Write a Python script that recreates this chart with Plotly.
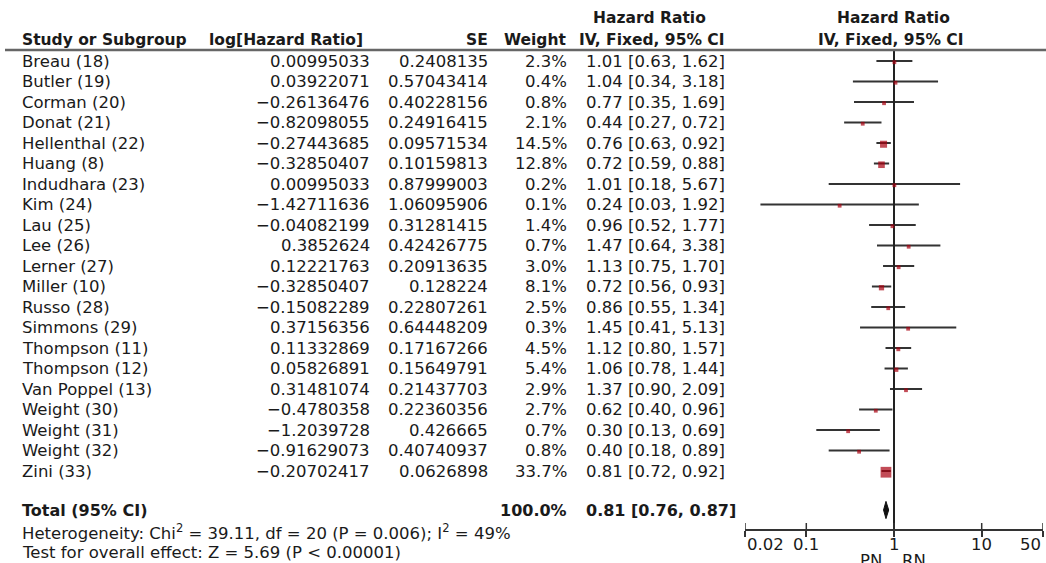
import math
import plotly.graph_objects as go

# ---------------- data ----------------
studies = ["Breau (18)", "Butler (19)", "Corman (20)", "Donat (21)", "Hellenthal (22)",
           "Huang (8)", "Indudhara (23)", "Kim (24)", "Lau (25)", "Lee (26)", "Lerner (27)",
           "Miller (10)", "Russo (28)", "Simmons (29)", "Thompson (11)", "Thompson (12)",
           "Van Poppel (13)", "Weight (30)", "Weight (31)", "Weight (32)", "Zini (33)"]
log_hr = [0.00995033, 0.03922071, -0.26136476, -0.82098055, -0.27443685, -0.32850407,
          0.00995033, -1.42711636, -0.04082199, 0.3852624, 0.12221763, -0.32850407,
          -0.15082289, 0.37156356, 0.11332869, 0.05826891, 0.31481074, -0.4780358,
          -1.2039728, -0.91629073, -0.20702417]
se = [0.2408135, 0.57043414, 0.40228156, 0.24916415, 0.09571534, 0.10159813, 0.87999003,
      1.06095906, 0.31281415, 0.42426775, 0.20913635, 0.128224, 0.22807261, 0.64448209,
      0.17167266, 0.15649791, 0.21437703, 0.22360356, 0.426665, 0.40740937, 0.0626898]
weight = [2.3, 0.4, 0.8, 2.1, 14.5, 12.8, 0.2, 0.1, 1.4, 0.7, 3.0, 8.1, 2.5, 0.3, 4.5, 5.4,
          2.9, 2.7, 0.7, 0.8, 33.7]
hr = [1.01, 1.04, 0.77, 0.44, 0.76, 0.72, 1.01, 0.24, 0.96, 1.47, 1.13, 0.72, 0.86, 1.45,
      1.12, 1.06, 1.37, 0.62, 0.30, 0.40, 0.81]
ci_lo = [0.63, 0.34, 0.35, 0.27, 0.63, 0.59, 0.18, 0.03, 0.52, 0.64, 0.75, 0.56, 0.55, 0.41,
         0.80, 0.78, 0.90, 0.40, 0.13, 0.18, 0.72]
ci_hi = [1.62, 3.18, 1.69, 0.72, 0.92, 0.88, 5.67, 1.92, 1.77, 3.38, 1.70, 0.93, 1.34, 5.13,
         1.57, 1.44, 2.09, 0.96, 0.69, 0.89, 0.92]
total_weight = 100.0
total_hr, total_lo, total_hi = 0.81, 0.76, 0.87
tick_vals = [0.02, 0.1, 1, 10, 50]
tick_text = ["0.02", "0.1", "1", "10", "50"]
heterogeneity = "Heterogeneity: Chi<sup>2</sup> = 39.11, df = 20 (P = 0.006); I<sup>2</sup> = 49%"
overall = "Test for overall effect: Z = 5.69 (P < 0.00001)"
favours = ["PN", "RN"]

# ---------------- layout constants ----------------
W, H = 1046, 563
ROW0, STEP = 61.0, 20.5          # pixel y of first row, row spacing


def row_of(py):
    return (py - ROW0) / STEP


def px(x):
    return x / W


FONT = "DejaVu Sans"
FS = 16.5
FSB = 15.5
TXT = "#1a1a1a"
n = len(studies)

fig = go.Figure()

# CI lines
cx, cy = [], []
for i in range(n):
    cx += [ci_lo[i], ci_hi[i], None]
    cy += [i, i, None]
fig.add_trace(go.Scatter(x=cx, y=cy, mode="lines", line=dict(color="#333333", width=2),
                         hoverinfo="skip", showlegend=False))

# line of no effect
ax_row = row_of(530)
fig.add_trace(go.Scatter(x=[1, 1], y=[row_of(50), ax_row], mode="lines",
                         line=dict(color="#222222", width=2), hoverinfo="skip", showlegend=False))

# point estimates (squares sized by weight)
sizes = [max(3.8, 1.85 * math.sqrt(w)) for w in weight]
fig.add_trace(go.Scatter(x=hr, y=[i + 0.06 for i in range(n)], mode="markers",
                         marker=dict(symbol="square", size=sizes, color="#a8000f",
                                     line=dict(width=0)),
                         hoverinfo="skip", showlegend=False))

# total diamond
ty = row_of(510)
dh = 0.42
fig.add_trace(go.Scatter(x=[total_lo, total_hr, total_hi, total_hr, total_lo],
                         y=[ty, ty - dh, ty, ty + dh, ty], mode="lines", fill="toself",
                         fillcolor="#111111", line=dict(color="#111111", width=1),
                         hoverinfo="skip", showlegend=False))

# crossing tick marks (upper half)
tx, tyy = [], []
for t in tick_vals:
    tx += [t, t, None]
    tyy += [ax_row, ax_row - 7 / STEP, None]
fig.add_trace(go.Scatter(x=tx, y=tyy, mode="lines", line=dict(color="#333333", width=1.5),
                         hoverinfo="skip", showlegend=False))

ann = []


def add(text, x, y, anchor="left", bold=False, size=FS, family=FONT, yanchor="middle",
        xref="paper"):
    if bold:
        text = "<b>" + text + "</b>"
    ann.append(dict(text=text, x=px(x) if xref == "paper" else x, xref=xref, y=y, yref="y",
                    xanchor=anchor, yanchor=yanchor, showarrow=False,
                    font=dict(family=family, size=size, color=TXT)))


def fmt(v):
    return repr(v).replace("-", "\u2212")


# header
add("Hazard Ratio", 649, row_of(18), "center", bold=True, size=FSB)
add("Hazard Ratio", 893, row_of(18), "center", bold=True, size=FSB)
add("Study or Subgroup", 20, row_of(40), "left", bold=True, size=FSB)
add("log[Hazard Ratio]", 365, row_of(40), "right", bold=True, size=FSB)
add("SE", 490, row_of(40), "right", bold=True, size=FSB)
add("Weight", 569, row_of(40), "right", bold=True, size=FSB)
add("IV, Fixed, 95% CI", 651, row_of(40), "center", bold=True, size=FSB)
add("IV, Fixed, 95% CI", 890, row_of(40), "center", bold=True, size=FSB)

for i in range(n):
    add(studies[i], 20, i, "left")
    add(fmt(log_hr[i]), 372, i, "right")
    add(fmt(se[i]), 490, i, "right")
    add(f"{weight[i]:.1f}%", 569, i, "right")
    add(f"{hr[i]:.2f} [{ci_lo[i]:.2f}, {ci_hi[i]:.2f}]", 584, i, "left")

add("Total (95% CI)", 20, ty, "left", bold=True, size=16)
add(f"{total_weight:.1f}%", 569, ty, "right", bold=True, size=16)
add(f"{total_hr:.2f} [{total_lo:.2f}, {total_hi:.2f}]", 584, ty, "left", bold=True, size=16)
add(heterogeneity, 20, row_of(532), "left", size=16.5)
add(overall, 20, row_of(552), "left", size=16.5)

# tick labels (end labels kept inside the axis span)
for k, (t, lab) in enumerate(zip(tick_vals, tick_text)):
    anc = "left" if k == 0 else ("right" if k == len(tick_vals) - 1 else "center")
    add(lab, math.log10(t), row_of(544), anc, size=16.5, xref="x")

add(favours[0], 871, row_of(549), "center", yanchor="top")
add(favours[1], 914, row_of(549), "center", yanchor="top")

fig.update_layout(
    width=W, height=H, margin=dict(l=0, r=0, t=0, b=0),
    paper_bgcolor="white", plot_bgcolor="white",
    annotations=ann,
    shapes=[dict(type="line", xref="paper", yref="y", x0=px(5), x1=1,
                 y0=row_of(50), y1=row_of(50), line=dict(color="#666666", width=2.5))],
    xaxis=dict(type="log", range=[math.log10(0.02), math.log10(50)],
               domain=[px(745), px(1043)], anchor="free", position=1 - 530 / H,
               showline=True, linecolor="#333333", linewidth=1.5,
               ticks="outside", ticklen=6, tickwidth=1.5, tickcolor="#333333",
               tickvals=tick_vals, showticklabels=False,
               showgrid=False, zeroline=False, fixedrange=True),
    yaxis=dict(range=[row_of(H), row_of(0)], domain=[0, 1], visible=False,
               showgrid=False, zeroline=False, fixedrange=True),
)

fig.write_html("out.html", config={"displayModeBar": False},
               post_script="document.body.style.margin='0';document.body.style.overflow='hidden';")
